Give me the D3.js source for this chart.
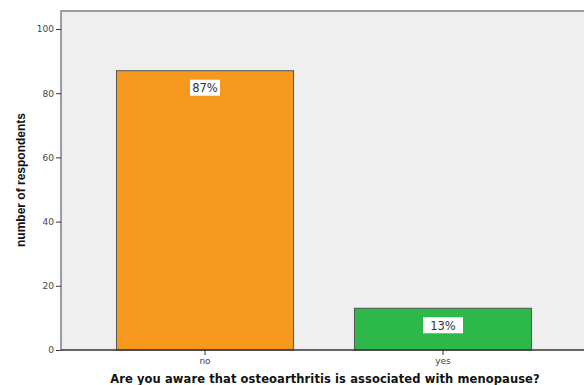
<!DOCTYPE html>
<html>
<head>
<meta charset="utf-8">
<script src="https://cdn.jsdelivr.net/npm/d3@7"></script>
<style>
  body { margin: 0; background: #fff; }
  text { font-family: "DejaVu Sans", Verdana, sans-serif; }
</style>
</head>
<body>
<script>
// data
var categories = ['no', 'yes']
var counts = [87, 13]
var percentLabels = ['87%', '13%']
var yTicks = [0, 20, 40, 60, 80, 100]

var W = 584, H = 385
var margin = {top: 11, right: -3, bottom: 35, left: 61}
var width = W - margin.left - margin.right,
    height = H - margin.top - margin.bottom

var svg = d3.select('body').append('svg')
  .attr('width', W).attr('height', H)

var g = svg.append('g')
  .attr('transform', 'translate(' + margin.left + ',' + margin.top + ')')

// scales
var yScale = d3.scaleLinear().domain([0, 105.6]).range([height, 0])
var xScale = d3.scaleBand().domain(categories)
  .range([25, 501]).paddingInner(0.256).paddingOuter(0.128)

var colors = {'no': '#f7991f', 'yes': '#2db84a'}

// plot background
g.append('rect')
  .attr('x', 0).attr('y', 0)
  .attr('width', width).attr('height', height)
  .attr('fill', '#efefef')

// bars
g.selectAll('.bar').data(categories).enter().append('rect')
  .attr('class', 'bar')
  .attr('x', function(d) { return xScale(d) })
  .attr('y', function(d, i) { return yScale(counts[i]) })
  .attr('width', xScale.bandwidth())
  .attr('height', function(d, i) { return height - yScale(counts[i]) })
  .attr('fill', function(d) { return colors[d] })
  .attr('stroke', '#555').attr('stroke-width', 1)

// frame (left, top)
g.append('path')
  .attr('d', 'M0,' + height + 'V0H' + width)
  .attr('fill', 'none').attr('stroke', '#808080').attr('stroke-width', 1.5)

// y axis
var yAxis = d3.axisLeft(yScale).tickValues(yTicks).tickSize(5).tickPadding(2)
var ya = g.append('g').attr('class', 'y axis').call(yAxis)
ya.select('.domain').remove()
ya.selectAll('line').attr('stroke', '#333').attr('stroke-width', 1)
ya.selectAll('text').attr('font-size', 9).attr('fill', '#444')

// x axis
var xAxis = d3.axisBottom(xScale).tickSize(5).tickPadding(3)
var xa = g.append('g').attr('class', 'x axis')
  .attr('transform', 'translate(0,' + height + ')').call(xAxis)
xa.select('.domain').attr('d', 'M0,0H' + width)
  .attr('stroke', '#333').attr('stroke-width', 1.5)
xa.selectAll('line').attr('stroke', '#333')
xa.selectAll('text').attr('font-size', 9).attr('fill', '#444')

// percent labels
var labels = g.selectAll('.lbl').data(categories).enter().append('g')
  .attr('class', 'lbl')
  .attr('transform', function(d, i) {
    return 'translate(' + (xScale(d) + xScale.bandwidth() / 2) + ',' + (yScale(counts[i]) + 18) + ')'
  })
labels.append('rect')
  .attr('x', function(d, i) { return i === 0 ? -15 : -20 })
  .attr('y', -9)
  .attr('width', function(d, i) { return i === 0 ? 30 : 40 })
  .attr('height', 16)
  .attr('fill', '#fff')
labels.append('text')
  .attr('text-anchor', 'middle')
  .attr('dy', '0.32em')
  .attr('font-size', 11.5)
  .attr('fill', '#333')
  .text(function(d, i) { return percentLabels[i] })

// axis titles
svg.append('text')
  .attr('transform', 'translate(25,180) rotate(-90)')
  .attr('text-anchor', 'middle')
  .style('font-family', '"Liberation Sans", Arial, sans-serif')
  .attr('font-size', 12).attr('font-weight', 'bold')
  .attr('fill', '#111')
  .text('number of respondents')

svg.append('text')
  .attr('x', 325).attr('y', 383)
  .attr('text-anchor', 'middle')
  .attr('font-size', 11.5).attr('font-weight', 'bold')
  .attr('letter-spacing', 0.1)
  .attr('fill', '#111')
  .text('Are you aware that osteoarthritis is associated with menopause?')
</script>
</body>
</html>
